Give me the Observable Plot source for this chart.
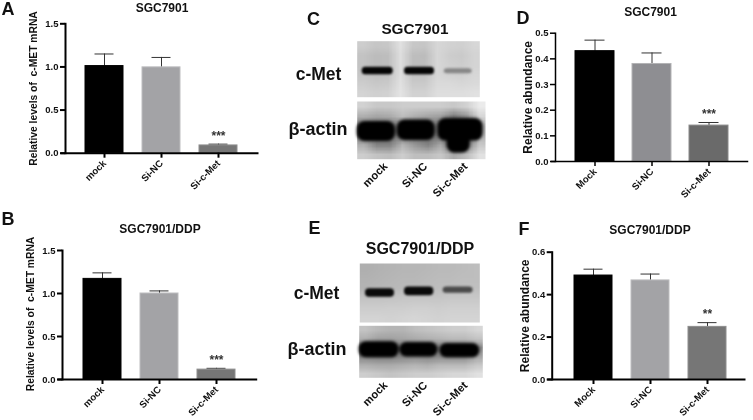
<!DOCTYPE html>
<html><head><meta charset="utf-8">
<script src="https://cdn.jsdelivr.net/npm/d3@7"></script>
<script src="https://cdn.jsdelivr.net/npm/@observablehq/plot@0.6"></script>
<style>
html,body{margin:0;padding:0;background:#fff}
#fig{position:relative;width:753px;height:420px;overflow:hidden;font-family:"Liberation Sans",Arial,sans-serif;filter:blur(.35px)}
#fig svg{position:absolute;left:0;top:0;background:transparent;overflow:visible}
#fig div.t{position:absolute;font-weight:bold;color:#111;white-space:pre;transform:translate(-50%,-50%);line-height:1}
</style></head><body><div id="fig"></div>
<script>
// ---------- data ----------
const lanesLower = ["mock", "Si-NC", "Si-c-Met"];
const lanesUpper = ["Mock", "Si-NC", "Si-c-Met"];

const valuesA = [1.01, 0.995, 0.09];
const errorsA = [1.15, 1.11, 0.105];
const valuesB = [1.17, 1.00, 0.115];
const errorsB = [1.24, 1.03, 0.13];
const valuesD = [0.43, 0.38, 0.14];
const errorsD = [0.473, 0.423, 0.152];
const valuesF = [0.49, 0.467, 0.248];
const errorsF = [0.52, 0.497, 0.268];

const ticksA = [0, 0.5, 1, 1.5];
const ticksD = [0, 0.1, 0.2, 0.3, 0.4, 0.5];
const ticksF = [0, 0.2, 0.4, 0.6];

// blot backgrounds (grey levels, 10 columns x 6 rows)
const bgCTop = [205,198,200,225,200,198,215,210,208,215, 195,188,190,222,190,188,215,205,202,212, 195,188,190,222,190,190,215,208,205,212, 198,192,195,222,195,195,215,210,208,215, 205,200,202,225,202,202,218,218,215,218, 212,208,210,228,210,210,222,222,222,225];
const bgCBot = [210,200,200,205,205,205,205,200,210,235, 175,165,170,190,175,165,160,125,150,215, 120,110,110,120,110,110,110,90,90,180, 120,110,110,120,110,110,110,90,90,180, 175,130,130,180,150,130,170,60,120,200, 205,195,190,205,190,190,200,170,190,225];
const bgETop = [175,178,180,182,182,184,186,186,188,190, 178,180,182,184,184,186,188,188,190,190, 180,182,184,186,186,188,190,190,192,192, 195,195,196,198,198,198,198,200,200,200, 205,205,206,206,208,208,206,208,208,208, 212,212,210,212,214,212,210,212,212,212];
const bgEBot = [195,185,180,180,190,195,200,205,205,215, 175,160,160,165,170,175,180,185,185,195, 110,100,100,110,110,105,110,110,110,140, 130,125,125,130,135,130,135,135,135,165, 175,170,170,175,180,175,185,185,185,200, 205,200,195,200,205,205,210,215,215,225];

// blot bands: [left, right, top, bottom, grey] along and across each membrane
const bandsCTop = [[5,36,26,33.5,5],[47.3,77.3,26,33.5,5],[87,115,27.5,32.5,135]];
const bandsCBot = [[0,38.3,20,40,0],[40,78,18.5,39,0],[80.7,126,17,39.5,0],[90,113,33,51.5,0]];
const bandsETop = [[5.7,34.7,25.2,33.8,10],[44.7,74,23.5,32.2,10],[83.3,113.3,23.5,29.8,75]];
const bandsEBot = [[0,39.7,16,32,0],[40.7,78.7,16.7,31.3,0],[80.7,120.7,17.7,32,0]];

// ---------- drawing ----------
const fig = document.getElementById("fig");
const W = 753, H = 420;

function barPanel(o) {
  const rows = o.cats.map((c, i) => ({c, v: o.values[i], e: o.errors[i], fill: o.fills[i], edge: o.edges[i]}));
  const font = {fontFamily: "Liberation Sans", fontWeight: "bold"};
  const svg = Plot.plot({
    width: W, height: H,
    marginLeft: o.left, marginRight: W - o.right, marginTop: o.top, marginBottom: H - o.bottom,
    style: {background: "transparent", fontFamily: "Liberation Sans"},
    x: {type: "band", domain: o.cats, range: [o.c0 - o.step / 2, o.c2 + o.step / 2], paddingInner: o.pad, paddingOuter: o.pad / 2, align: 0.5, label: null},
    y: {domain: o.domain, label: null},
    marks: [
      Plot.ruleX(rows, {x: "c", y1: "v", y2: "e", stroke: "#333", strokeWidth: 1}),
      Plot.tickY(rows, {x: "c", y: "e", stroke: "#333", strokeWidth: 1, insetLeft: o.capInset, insetRight: o.capInset}),
      Plot.barY(rows, {x: "c", y: "v", fill: d => d.fill, stroke: d => d.edge, strokeWidth: 1}),
      Plot.text([o.stars], {x: () => o.cats[2], y: () => o.starY, text: d => d, fontSize: 12, fill: "#333", fontWeight: "bold"}),
      Plot.frame({anchor: "left", stroke: "#000", strokeWidth: o.axisW}),
      Plot.frame({anchor: "bottom", stroke: "#000", strokeWidth: o.axisW, insetLeft: -4}),
      Plot.axisY({ticks: o.ticks, tickFormat: ".1f", tickSize: 5, tickPadding: 2, strokeWidth: o.axisW, stroke: "#000", fontSize: 9.5, fill: "#111", label: null, ...font}),
      Plot.axisX({tickSize: 5, tickPadding: 3.5, tickRotate: -45, strokeWidth: o.axisW, stroke: "#000", fontSize: 9.6, fill: "#111", label: null, ...font}),
      Plot.text([o.ylabel], {frameAnchor: "left", textAnchor: "middle", rotate: -90, dx: o.labelDx, dy: o.labelDy || 0, text: d => d, fontSize: o.labelSize, fill: "#111", ...font})
    ]
  });
  fig.appendChild(svg);
}

function blot(o) {
  const svg = Plot.plot({
    width: W, height: H,
    marginLeft: o.x0, marginRight: W - o.x1, marginTop: o.y0, marginBottom: H - o.y1,
    style: {background: "transparent"},
    x: {domain: [0, o.x1 - o.x0], axis: null},
    y: {domain: [0, o.y1 - o.y0], reverse: true, axis: null},
    color: {type: "linear", domain: [0, 255], range: ["black", "white"]},
    marks: [
      Plot.raster(o.bg, {width: 10, height: 6, x1: 0, x2: o.x1 - o.x0, y1: 0, y2: o.y1 - o.y0, fill: d => d}),
      Plot.rect(o.bands, {x1: d => d[0], x2: d => d[1], y1: d => d[2], y2: d => d[3], fill: d => d[4], rx: o.rx, imageFilter: `blur(${o.blur}px)`})
    ]
  });
  fig.appendChild(svg);
}

function laneLabels(o) {
  const svg = Plot.plot({
    width: W, height: H,
    marginLeft: o.x0, marginRight: W - o.x1, marginTop: 100, marginBottom: H - o.y,
    style: {background: "transparent"},
    x: {type: "band", domain: lanesLower, range: [o.x0, o.x1], paddingInner: 0, paddingOuter: 0, label: null},
    y: {domain: [0, 1], axis: null},
    marks: [Plot.axisX({tickSize: 0, tickPadding: 0, tickRotate: -45, fontSize: 11.2, fontWeight: "bold", fontFamily: "Liberation Sans", fill: "#111", label: null})]
  });
  fig.appendChild(svg);
}

function label(text, x, y, size) {
  const d = document.createElement("div");
  d.className = "t";
  d.textContent = text;
  d.style.left = x + "px";
  d.style.top = y + "px";
  d.style.fontSize = size + "px";
  fig.appendChild(d);
}

const fillsA = ["#000", "#a3a3a6", "#767676"];
const edgesA = ["#000", "#bdbdbf", "#8e8e8e"];
const fillsD = ["#000", "#8e8e92", "#6a6a6a"];
const edgesD = ["#000", "#b4b4b6", "#8a8a8a"];

barPanel({cats: lanesLower, values: valuesA, errors: errorsA, fills: fillsA, edges: edgesA, left: 65, right: 257, top: 23.3, bottom: 152.7, c0: 103.6, c2: 219.3, step: 57.85, pad: 0.33, capInset: 9.5, domain: [0, 1.5], ticks: ticksA, stars: "***", starY: 0.2, ylabel: "Relative levels of  c-MET mRNA", labelDx: -32, labelSize: 10.3, axisW: 2});
barPanel({cats: lanesLower, values: valuesB, errors: errorsB, fills: fillsA, edges: edgesA, left: 62, right: 255.7, top: 250, bottom: 379, c0: 101.8, c2: 217, step: 57.6, pad: 0.33, capInset: 9.5, domain: [0, 1.5], ticks: ticksA, stars: "***", starY: 0.225, ylabel: "Relative levels of  c-MET mRNA", labelDx: -31.5, labelDy: -1, labelSize: 10.3, axisW: 2});
barPanel({cats: lanesUpper, values: valuesD, errors: errorsD, fills: fillsD, edges: edgesD, left: 555, right: 747, top: 32.7, bottom: 161, c0: 593.3, c2: 709, step: 57.85, pad: 0.32, capInset: 9.5, domain: [0, 0.5], ticks: ticksD, stars: "***", starY: 0.185, ylabel: "Relative abundance", labelDx: -27.5, labelSize: 12, axisW: 1.5});
barPanel({cats: lanesUpper, values: valuesF, errors: errorsF, fills: fillsA, edges: edgesA, left: 551.7, right: 744, top: 251.7, bottom: 379, c0: 592.7, c2: 707, step: 57.15, pad: 0.33, capInset: 9.5, domain: [0, 0.6], ticks: ticksF, stars: "**", starY: 0.31, ylabel: "Relative abundance", labelDx: -27, labelSize: 12, axisW: 2});

blot({x0: 356.7, x1: 479.3, y0: 40.7, y1: 96.7, bg: bgCTop, bands: bandsCTop, rx: 3.5, blur: 1.2});
blot({x0: 356.7, x1: 485, y0: 101, y1: 158.7, bg: bgCBot, bands: bandsCBot, rx: 8, blur: 1.6});
blot({x0: 359.3, x1: 479.3, y0: 263, y1: 322, bg: bgETop, bands: bandsETop, rx: 4, blur: 1.2});
blot({x0: 358.7, x1: 482.3, y0: 325.3, y1: 377.3, bg: bgEBot, bands: bandsEBot, rx: 7, blur: 1.6});

laneLabels({x0: 365, x1: 485, y: 164});
laneLabels({x0: 365, x1: 485, y: 383});

// panel letters
label("A", 8, 9, 18); label("B", 8, 219, 18); label("C", 313.5, 19, 18);
label("E", 314.5, 228, 18); label("D", 523, 18, 18); label("F", 524, 229, 18);
// titles
label("SGC7901", 162, 7.5, 12); label("SGC7901/DDP", 160, 229, 12);
label("SGC7901", 650.5, 12, 12); label("SGC7901/DDP", 650, 230, 12);
label("SGC7901", 415, 29, 15.3); label("SGC7901/DDP", 420, 249, 16);
// blot names
label("c-Met", 318.5, 75, 17.5); label("β-actin", 318, 128.5, 18);
label("c-Met", 316.5, 294, 17.5); label("β-actin", 317, 349, 18);
</script></body></html>
